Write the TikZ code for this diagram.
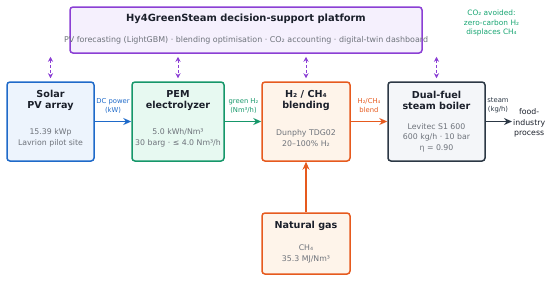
\documentclass[tikz,border=0pt]{standalone}
\usepackage{fontspec}
\setmainfont{DejaVu Sans}
\usetikzlibrary{arrows.meta}
\definecolor{purp}{HTML}{8B3FD4}
\definecolor{purpfill}{HTML}{F5F0FD}
\definecolor{bluec}{HTML}{1F6AC9}
\definecolor{bluefill}{HTML}{EDF4FD}
\definecolor{greenc}{HTML}{16976A}
\definecolor{greenfill}{HTML}{E7F9F1}
\definecolor{orangec}{HTML}{E65A1E}
\definecolor{orangefill}{HTML}{FEF4EA}
\definecolor{darkc}{HTML}{2C3845}
\definecolor{darkfill}{HTML}{F4F6F9}
\definecolor{txtc}{HTML}{1B202B}
\definecolor{grayc}{HTML}{6E737B}
\definecolor{co2c}{HTML}{18A572}
\begin{document}
\begin{tikzpicture}[x=1pt,y=-1pt,every node/.style={text=txtc,inner sep=1pt,align=center},
  blk/.style={draw=#1,rounded corners=3pt,line width=1.5pt,minimum height=79pt},
  ttl/.style={font=\fontsize{9.6}{11}\bfseries\selectfont},
  body/.style={font=\fontsize{7.8}{10.8}\selectfont,text=grayc},
  lbl/.style={font=\fontsize{6.8}{9}\selectfont,text=#1},
  flow/.style={draw=#1,line width=1.9pt,-{Stealth[length=8pt,width=7pt]}},
  sync/.style={draw=purp,line width=1pt,dash pattern=on 3pt off 2pt,{Stealth[length=5pt,width=5pt]}-{Stealth[length=5pt,width=5pt]},shorten <=3pt,shorten >=3pt}]
\useasboundingbox (0,0) rectangle (550,282);
% platform
\node[blk=purp,fill=purpfill,minimum width=352pt,minimum height=46pt] (plat) at (246,30) {};
\node[ttl,font=\fontsize{9.9}{11}\bfseries\selectfont] (platttl) at (246,19) {Hy4GreenSteam decision-support platform};
\node[body,font=\fontsize{7.95}{9}\selectfont] (platsub) at (246,40.5) {PV forecasting (LightGBM) · blending optimisation · CO₂ accounting · digital-twin dashboard};
\node[lbl=co2c,font=\fontsize{7.4}{9.5}\selectfont] (co2) at (491.5,23) {CO₂ avoided:\\zero-carbon H₂\\displaces CH₄};
% process chain
\node[blk=bluec,fill=bluefill,minimum width=87pt] (solar) at (50.5,121.5) {};
\node[blk=greenc,fill=greenfill,minimum width=92pt] (pem) at (178,121.5) {};
\node[blk=orangec,fill=orangefill,minimum width=88pt] (blend) at (306,121.5) {};
\node[blk=darkc,fill=darkfill,minimum width=97pt] (boiler) at (436.5,121.5) {};
\node[blk=orangec,fill=orangefill,minimum width=88pt,minimum height=61pt] (gas) at (306,243.5) {};
\node[ttl] (solarttl) at (50.5,100.3) {Solar\\PV array};
\node[body] (solarbody) at (50.5,137.8) {15.39 kWp\\Lavrion pilot site};
\node[ttl] (pemttl) at (178,100.3) {PEM\\electrolyzer};
\node[body] (pembody) at (178,137.8) {5.0 kWh/Nm³\\30 barg · ≤ 4.0 Nm³/h};
\node[ttl] (blendttl) at (306,100.3) {H₂ / CH₄\\blending};
\node[body] (blendbody) at (306,137.8) {Dunphy TDG02\\20–100\% H₂};
\node[ttl] (boilerttl) at (436.5,100.3) {Dual-fuel\\steam boiler};
\node[body] (boilerbody) at (436.5,137.8) {Levitec S1 600\\600 kg/h · 10 bar\\η = 0.90};
\node[ttl] (gasttl) at (306,225.7) {Natural gas};
\node[body] (gasbody) at (306,254) {CH₄\\35.3 MJ/Nm³};
\node[font=\fontsize{7.8}{10.8}\selectfont,anchor=west] (food) at (512,123) {food-\\industry\\process};
% flows
\draw[flow=bluec] (solar) -- (pem);
\draw[flow=greenc] (pem) -- (blend);
\draw[flow=orangec] (blend) -- (boiler);
\draw[flow=darkc] (boiler.east) -- (food.west |- boiler.east);
\draw[flow=orangec] (gas) -- (blend);
\node[lbl=bluec] (dcl) at (113,105.5) {DC power\\(kW)};
\node[lbl=greenc] (h2l) at (243.5,105.5) {green H₂\\(Nm³/h)};
\node[lbl=orangec] (mixl) at (369,105.5) {H₂/CH₄\\blend};
\node[lbl=darkc] (steaml) at (498,105.5) {steam\\(kg/h)};
% data links to the platform
\foreach \b in {solar,pem,blend,boiler} {\draw[sync] (\b.north |- plat.south) -- (\b.north);}
\end{tikzpicture}
\end{document}
